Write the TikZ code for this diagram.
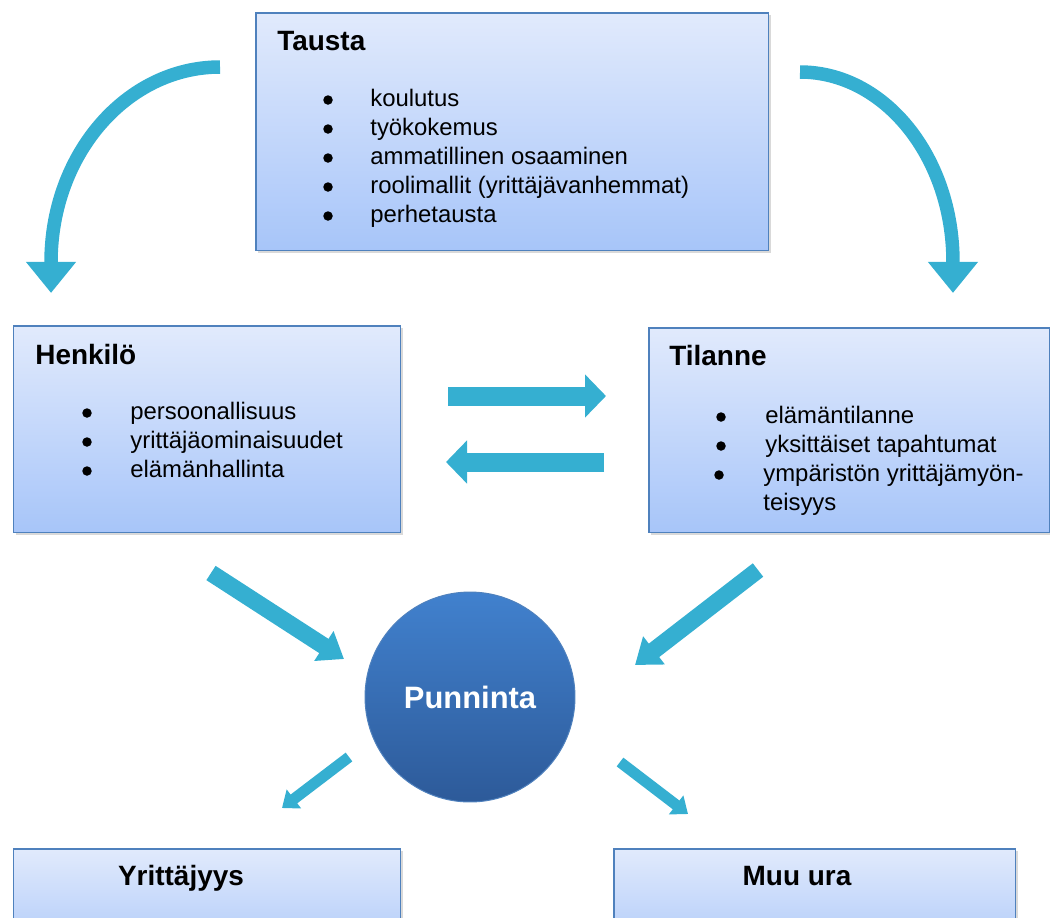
\documentclass[tikz,border=0pt]{standalone}
\usepackage{fontspec}
\setmainfont{Liberation Sans}
\usetikzlibrary{arrows.meta,shadows}

\definecolor{boxtop}{HTML}{E1EAFC}
\definecolor{boxbot}{HTML}{A7C5F9}
\definecolor{boxline}{HTML}{4F81BD}
\definecolor{arrowblue}{HTML}{35AFD1}
\definecolor{balltop}{HTML}{4181CE}
\definecolor{ballbot}{HTML}{2D5A99}

\tikzset{
  box/.style={rectangle, anchor=north west, inner sep=0pt, draw=boxline, line width=0.03cm,
    top color=boxtop, bottom color=boxbot,
    drop shadow={opacity=0.3, shadow xshift=0.05cm, shadow yshift=-0.05cm}},
  title/.style={anchor=base west, inner sep=0pt, font=\fontsize{15.9}{19}\selectfont\bfseries},
  item/.style={anchor=base west, inner sep=0pt, font=\fontsize{13.6}{16.4}\selectfont},
  dot/.style={circle, fill=black, inner sep=0pt, minimum size=0.19cm},
  ball/.style={circle, minimum size=4.2cm, draw=boxline, line width=0.02cm,
    top color=balltop, bottom color=ballbot, text=white,
    font=\fontsize{17.6}{20}\selectfont\bfseries},
  kaari/.style={draw=arrowblue, line width=0.27cm, -{Triangle[width=0.96cm,length=0.62cm]}},
  flat/.style={draw=arrowblue, line width=0.38cm, -{Triangle[width=0.84cm,length=0.42cm]}},
  slant/.style={draw=arrowblue, line width=0.34cm, -{Triangle[width=0.68cm,length=0.48cm]}},
  small/.style={draw=arrowblue, line width=0.22cm, -{Triangle[width=0.46cm,length=0.3cm]}}
}

\begin{document}
\begin{tikzpicture}[x=0.02cm, y=-0.02cm]
\useasboundingbox (0,0) rectangle (1050,917);
\clip (0,0) rectangle (1050,917);

% boxes
\node[box, minimum width=10.26cm, minimum height=4.76cm] (tausta) at (255,12) {};
\node[box, minimum width=7.74cm, minimum height=4.14cm] (henkilo) at (13,325) {};
\node[box, minimum width=8.02cm, minimum height=4.1cm] (tilanne) at (648,327) {};
\node[box, minimum width=7.74cm, minimum height=2.4cm] (yrittajyys) at (13,848) {};
\node[box, minimum width=8.04cm, minimum height=2.4cm] (muuura) at (613,848) {};
\node[ball] (punninta) at (470,697) {Punninta};

% Tausta
\node[title] (taustaotsikko) at (277,50) {Tausta};
\node[dot] at (328,100) {}; \node[item] (t1) at (370,106) {koulutus};
\node[dot] at (328,129) {}; \node[item] (t2) at (370,135) {työkokemus};
\node[dot] at (328,158) {}; \node[item] (t3) at (370,164) {ammatillinen osaaminen};
\node[dot] at (328,187) {}; \node[item] (t4) at (370,193) {roolimallit (yrittäjävanhemmat)};
\node[dot] at (328,216) {}; \node[item] (t5) at (370,222) {perhetausta};

% Henkilö
\node[title] (henkilootsikko) at (35,364) {Henkilö};
\node[dot] at (87,413) {}; \node[item] (h1) at (130,419) {persoonallisuus};
\node[dot] at (87,442) {}; \node[item] (h2) at (130,448) {yrittäjäominaisuudet};
\node[dot] at (87,471) {}; \node[item] (h3) at (130,477) {elämänhallinta};

% Tilanne
\node[title] (tilanneotsikko) at (669,365) {Tilanne};
\node[dot] at (721,417) {}; \node[item] (s1) at (765,423) {elämäntilanne};
\node[dot] at (721,446) {}; \node[item] (s2) at (765,452) {yksittäiset tapahtumat};
\node[dot] at (719,475) {}; \node[item] (s3) at (763,481) {ympäristön yrittäjämyön-};
\node[item] (s4) at (763,510) {teisyys};

% bottom
\node[title, anchor=base] (yotsikko) at (181,885) {Yrittäjyys};
\node[title, anchor=base] (motsikko) at (797,885) {Muu ura};

% arrows
\coordinate (vasenalku) at (220,67);
\coordinate (oikeaalku) at (800,72);
\draw[kaari] (vasenalku) arc[start angle=90, end angle=180, x radius=3.38cm, y radius=3.9cm] -- ++(0,-0.62cm);
\draw[kaari] (oikeaalku) arc[start angle=90, end angle=0, x radius=3.06cm, y radius=3.8cm] -- ++(0,-0.62cm);

\coordinate (a1) at (448,396); \coordinate (a2) at (606,396);
\coordinate (b1) at (604,462); \coordinate (b2) at (446,462);
\draw[flat] (a1) -- (a2);
\draw[flat] (b1) -- (b2);

\coordinate (c1) at (211,573); \coordinate (c2) at (344,659);
\coordinate (d1) at (758,570); \coordinate (d2) at (635,665);
\draw[slant] (c1) -- (c2);
\draw[slant] (d1) -- (d2);

\coordinate (e1) at (349,757); \coordinate (e2) at (282,808);
\coordinate (f1) at (620,762); \coordinate (f2) at (688,814);
\draw[small] (e1) -- (e2);
\draw[small] (f1) -- (f2);
\end{tikzpicture}
\end{document}
